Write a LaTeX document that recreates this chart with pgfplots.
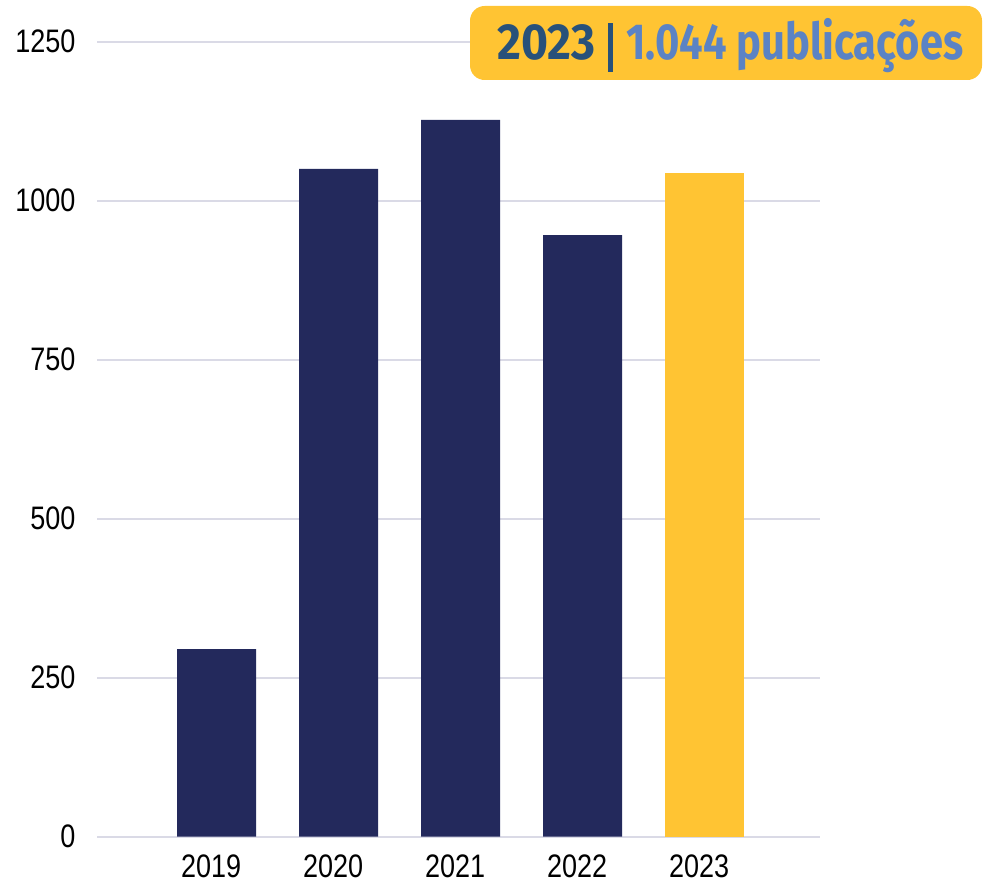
\documentclass[border=0pt]{standalone}
\usepackage{fontspec}
\usepackage{pgfplots}
\pgfplotsset{compat=1.18}
\setmainfont{Liberation Sans}
\newfontfamily\tickfont{Liberation Sans}[FakeStretch=0.83]
\newfontfamily\titlefont{Fira Sans}
\definecolor{navy}{HTML}{23295C}
\definecolor{gold}{HTML}{FFC433}
\definecolor{gridc}{HTML}{DADAE6}
\definecolor{darkt}{HTML}{28517A}
\definecolor{lightt}{HTML}{5B83C4}
\newlength\wa
\newlength\wb
\newcommand\tfont{\titlefont\bfseries\fontsize{38}{40}\selectfont}
\begin{document}%
\settowidth\wa{\tfont 2023}%
\settowidth\wb{\tfont 1.044 publicações}%
\pgfmathsetmacro{\sx}{73.5pt/\wa}%
\pgfmathsetmacro{\sxb}{252.75pt/\wb}%
\begin{tikzpicture}
\path[use as bounding box] (0,0) rectangle (748.5pt,662.25pt);
\begin{axis}[
  at={(72.75pt,34.7pt)}, anchor=south west,
  scale only axis, width=542.25pt, height=596.25pt,
  xmin=-0.98, xmax=4.947, ymin=0, ymax=1250,
  axis line style={draw=none},
  major tick style={draw=none},
  ytick={0,250,500,750,1000,1250},
  xtick={0,1,2,3,4},
  xticklabels={2019,2020,2021,2022,2023},
  ymajorgrids, grid style={gridc, line width=1.2pt},
  /pgf/number format/assume math mode=true,
  /pgf/number format/1000 sep={},
  scaled y ticks=false,
  yticklabel style={font=\tickfont\fontsize{24.4}{28}\selectfont, anchor=east, inner sep=0pt, xshift=-16pt},
  xticklabel style={font=\tickfont\fontsize{24.4}{28}\selectfont, anchor=north, inner sep=0pt, yshift=-13.7pt, xshift=-4pt},
]
\addplot[ybar, bar width=59.25pt, bar shift=0pt, fill=navy, draw=none] coordinates {(0,295) (1,1050) (2,1127) (3,946)};
\addplot[ybar, bar width=59.25pt, bar shift=0pt, fill=gold, draw=none] coordinates {(4,1044)};
\end{axis}
\fill[gold, rounded corners=11pt] (352.5pt,602.25pt) rectangle (736.5pt,657.75pt);
\node[anchor=base west, inner sep=0pt, text=darkt] at (372.75pt,617.25pt) {\scalebox{\sx}[1]{\tfont 2023}};
\fill[darkt] (456pt,608.25pt) rectangle (459.75pt,645pt);
\node[anchor=base west, inner sep=0pt, text=lightt] at (469.5pt,617.25pt) {\scalebox{\sxb}[1]{\tfont 1.044 publicações}};
\end{tikzpicture}%
\end{document}
